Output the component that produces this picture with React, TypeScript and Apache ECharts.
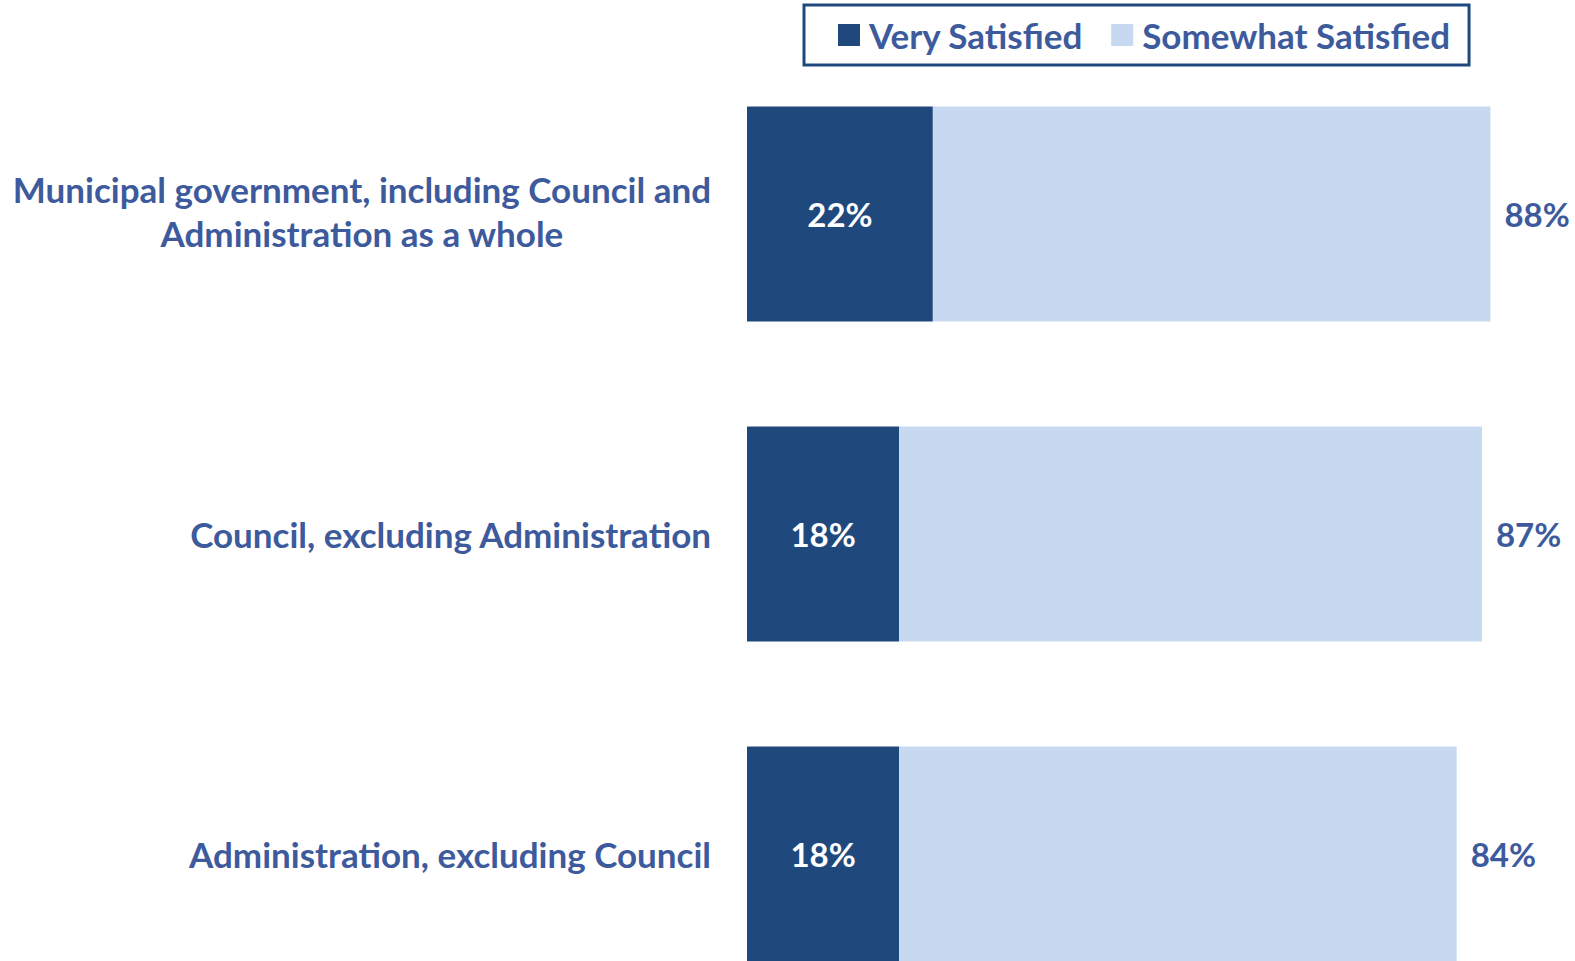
import React, { useEffect, useRef } from "react";
import * as echarts from "echarts";

const categories = [
  "Municipal government, including Council and\nAdministration as a whole",
  "Council, excluding Administration",
  "Administration, excluding Council",
];
const seriesNames = ["Very Satisfied", "Somewhat Satisfied"];
const verySatisfied = [22, 18, 18];
const somewhatSatisfied = [66, 69, 66];
const totalSatisfied = [88, 87, 84];

const FONT = "Lato";
const BLUE_TEXT = "#3D5A9C";
const DARK = "#1F497D";
const LIGHT = "#C6D9F1";

export default function App() {
  const ref = useRef<HTMLDivElement>(null);
  useEffect(() => {
    document.body.style.margin = "0";
    document.body.style.overflow = "hidden";
    const chart = echarts.init(ref.current!, null, { renderer: "svg" });
    chart.setOption({
      animation: false,
      backgroundColor: "#ffffff",
      legend: {
        data: seriesNames,
        left: 804,
        top: 5,
        padding: [11, 19, 11, 34],
        borderColor: DARK,
        borderWidth: 3,
        borderRadius: 0,
        itemWidth: 22,
        itemHeight: 22,
        itemGap: 28,
        icon: "rect",
        textStyle: {
          fontFamily: FONT,
          fontWeight: "bold",
          fontSize: 35,
          color: BLUE_TEXT,
          lineHeight: 38,
          padding: [0, 0, 0, 4],
        },
      },
      grid: { left: 747, top: 54, width: 811, height: 960, containLabel: false },
      xAxis: {
        type: "value",
        min: 0,
        max: 96,
        show: false,
      },
      yAxis: {
        type: "category",
        data: categories,
        inverse: true,
        axisLine: { show: false },
        axisTick: { show: false },
        splitLine: { show: false },
        axisLabel: {
          margin: 36,
          fontFamily: FONT,
          fontWeight: "bold",
          fontSize: 35,
          color: BLUE_TEXT,
          lineHeight: 44,
          formatter: (v: string) =>
            v.indexOf("\n") >= 0
              ? v
                  .split("\n")
                  .map((l) => "{c|" + l + "}")
                  .join("\n")
              : v,
          rich: {
            c: {
              align: "center",
              fontFamily: FONT,
              fontWeight: "bold",
              fontSize: 35,
              color: BLUE_TEXT,
              lineHeight: 44,
              padding: [0, 0, 6, 0],
            },
          },
        },
      },
      series: [
        {
          name: seriesNames[0],
          type: "bar",
          stack: "s",
          data: verySatisfied,
          barWidth: 215,
          itemStyle: { color: DARK },
          label: {
            show: true,
            position: "inside",
            formatter: (p: any) => p.value + "%",
            color: "#ffffff",
            fontFamily: FONT,
            fontWeight: "bold",
            fontSize: 33,
          },
        },
        {
          name: seriesNames[1],
          type: "bar",
          stack: "s",
          data: somewhatSatisfied,
          barWidth: 215,
          itemStyle: { color: LIGHT },
          label: {
            show: true,
            position: "right",
            distance: 14,
            formatter: (p: any) => totalSatisfied[p.dataIndex] + "%",
            color: BLUE_TEXT,
            fontFamily: FONT,
            fontWeight: "bold",
            fontSize: 33,
          },
        },
      ],
    });
    return () => chart.dispose();
  }, []);
  return <div ref={ref} style={{ width: 1575, height: 1100 }} />;
}
